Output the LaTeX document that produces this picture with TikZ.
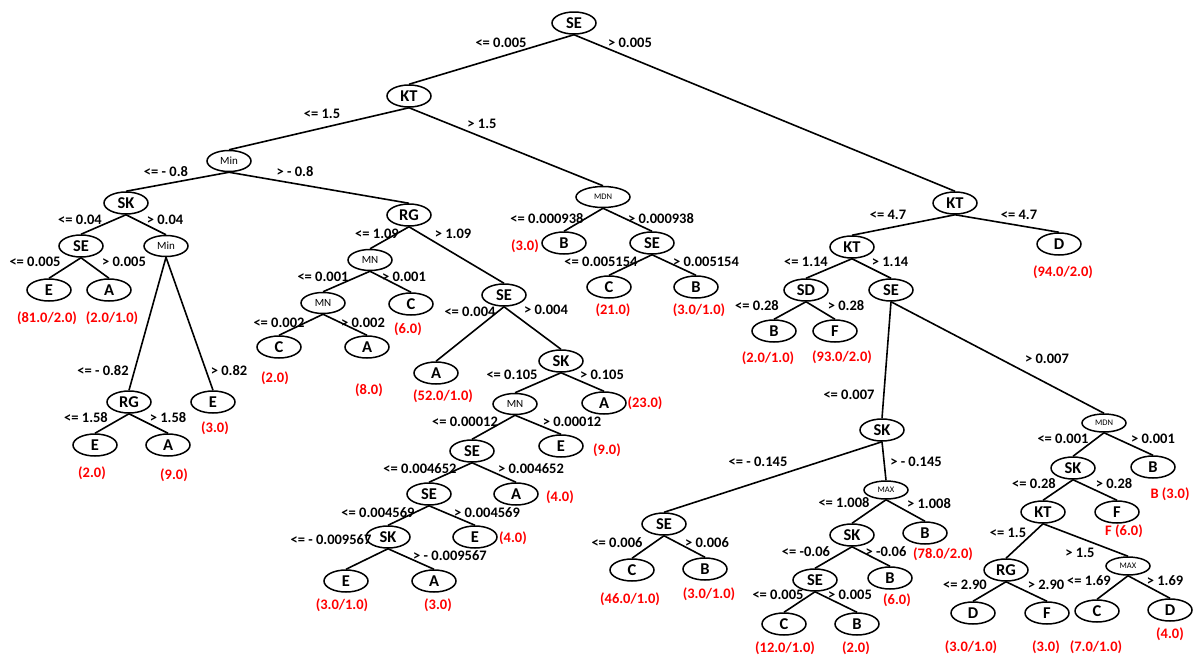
\documentclass[tikz,border=0pt]{standalone}
\usepackage{fontspec}
\setmainfont{Carlito}
\usetikzlibrary{shapes.geometric}
\begin{document}
\begin{tikzpicture}[x=1pt,y=-1pt,
  tn/.style={ellipse,draw,line width=1.5pt,minimum width=44pt,minimum height=22pt,inner sep=0pt,
    font=\fontsize{16.5}{16.5}\selectfont\bfseries},
  sn/.style={tn,minimum height=21pt,font=\fontsize{11}{11}\selectfont},
  xn/.style={tn,minimum height=18pt,font=\fontsize{8.5}{8.5}\selectfont},
  cond/.style={font=\fontsize{14.5}{14.5}\selectfont\bfseries,inner sep=0pt},
  cnt/.style={font=\fontsize{14.5}{14.5}\selectfont\bfseries,text=red,inner sep=0pt},
  br/.style={line width=1.6pt}]
\useasboundingbox (0,0) rectangle (1193,656);

% ---------- tree nodes ----------
\node[tn] (se0) at (574,23) {SE};
\node[tn] (kt1) at (409,96) {KT};
\node[sn] (min1) at (229,161) {Min};
\node[xn,minimum width=54pt,minimum height=21pt] (mdn1) at (603,197) {MDN};
\node[tn] (sk1) at (126,203) {SK};
\node[tn] (rg1) at (409,215) {RG};
\node[tn] (kt2) at (955,203) {KT};
\node[tn] (d1) at (1059,244) {D};
\node[tn] (se2) at (81,246) {SE};
\node[sn] (min2) at (166,246) {Min};
\node[tn] (e1) at (49,290) {E};
\node[tn] (a1) at (109,290) {A};
\node[tn] (rg2) at (129,402) {RG};
\node[tn] (e2) at (213,402) {E};
\node[tn] (e3) at (95,445) {E};
\node[tn] (a2) at (168,445) {A};
\node[sn] (mn1) at (370,260) {MN};
\node[tn] (se4) at (504,295) {SE};
\node[sn] (mn2) at (323,303) {MN};
\node[tn] (c2) at (411,304) {C};
\node[tn] (c3) at (279,347) {C};
\node[tn] (a3) at (367,347) {A};
\node[tn] (a4) at (436,373) {A};
\node[tn] (sk2) at (561,361) {SK};
\node[sn] (mn3) at (515,404) {MN};
\node[tn] (a5) at (604,403) {A};
\node[tn] (se5) at (472,451) {SE};
\node[tn] (e4) at (561,446) {E};
\node[tn] (se6) at (429,494) {SE};
\node[tn] (a6) at (516,494) {A};
\node[tn] (sk3) at (388,537) {SK};
\node[tn] (e5) at (475,537) {E};
\node[tn] (e6) at (346,581) {E};
\node[tn] (a7) at (434,581) {A};
\node[tn] (b1) at (564,243) {B};
\node[tn] (se3) at (652,243) {SE};
\node[tn] (c1) at (609,287) {C};
\node[tn] (b2) at (696,287) {B};
\node[tn] (kt3) at (852,247) {KT};
\node[tn] (sd) at (806,290) {SD};
\node[tn] (se7) at (891,290) {SE};
\node[tn] (b3) at (774,331) {B};
\node[tn] (f1) at (835,331) {F};
\node[tn] (sk4) at (882,430) {SK};
\node[xn] (mdn2) at (1104,423) {MDN};
\node[tn] (se8) at (664,524) {SE};
\node[xn] (max1) at (886,490) {MAX};
\node[tn] (c4) at (632,570) {C};
\node[tn] (b4) at (705,569) {B};
\node[tn] (sk5) at (852,535) {SK};
\node[tn] (b5) at (925,533) {B};
\node[tn] (se9) at (815,580) {SE};
\node[tn] (b6) at (890,578) {B};
\node[tn] (c5) at (784,624) {C};
\node[tn] (b7) at (857,624) {B};
\node[tn] (sk6) at (1073,468) {SK};
\node[tn] (b8) at (1153,467) {B};
\node[tn] (kt4) at (1043,512) {KT};
\node[tn] (f2) at (1117,512) {F};
\node[tn] (rg3) at (1006,570) {RG};
\node[xn] (max2) at (1128,566) {MAX};
\node[tn] (d2) at (973,613) {D};
\node[tn] (f3) at (1047,613) {F};
\node[tn] (c6) at (1097,611) {C};
\node[tn] (d3) at (1170,610) {D};

% ---------- branches ----------
\foreach \p/\c in {se0/kt1,se0/kt2,kt1/min1,kt1/mdn1,min1/sk1,min1/rg1,
  sk1/se2,sk1/min2,se2/e1,se2/a1,min2/rg2,min2/e2,rg2/e3,rg2/a2,
  rg1/mn1,rg1/se4,mn1/mn2,mn1/c2,mn2/c3,mn2/a3,se4/a4,se4/sk2,
  sk2/mn3,sk2/a5,mn3/se5,mn3/e4,se5/se6,se5/a6,se6/sk3,se6/e5,sk3/e6,sk3/a7,
  mdn1/b1,mdn1/se3,se3/c1,se3/b2,
  kt2/kt3,kt2/d1,kt3/sd,kt3/se7,sd/b3,sd/f1,se7/sk4,se7/mdn2,
  sk4/se8,sk4/max1,se8/c4,se8/b4,max1/sk5,max1/b5,sk5/se9,sk5/b6,se9/c5,se9/b7,
  mdn2/sk6,mdn2/b8,sk6/kt4,sk6/f2,kt4/rg3,kt4/max2,rg3/d2,rg3/f3,max2/c6,max2/d3}
  \draw[br] (\p.south) -- (\c.north);

% ---------- split conditions ----------
\node[cond] at (501,43) {<= 0.005};
\node[cond] at (630,43) {> 0.005};
\node[cond] at (322,114) {<= 1.5};
\node[cond] at (482,124) {> 1.5};
\node[cond] at (166,172) {<= - 0.8};
\node[cond] at (295,172) {> - 0.8};
\node[cond] at (80,220) {<= 0.04};
\node[cond] at (165,220) {> 0.04};
\node[cond] at (35,262) {<= 0.005};
\node[cond] at (124,262) {> 0.005};
\node[cond] at (103,371) {<= - 0.82};
\node[cond] at (229,371) {> 0.82};
\node[cond] at (86,418) {<= 1.58};
\node[cond] at (168,418) {> 1.58};
\node[cond] at (377,234) {<= 1.09};
\node[cond] at (453,234) {> 1.09};
\node[cond] at (323,277) {<= 0.001};
\node[cond] at (404,277) {> 0.001};
\node[cond] at (279,323) {<= 0.002};
\node[cond] at (363,323) {> 0.002};
\node[cond] at (470,312) {<= 0.004};
\node[cond] at (546,310) {> 0.004};
\node[cond] at (512,375) {<= 0.105};
\node[cond] at (602,375) {> 0.105};
\node[cond] at (465,422) {<= 0.00012};
\node[cond] at (572,422) {> 0.00012};
\node[cond] at (420,469) {<= 0.004652};
\node[cond] at (531,469) {> 0.004652};
\node[cond] at (378,513) {<= 0.004569};
\node[cond] at (487,513) {> 0.004569};
\node[cond] at (331,540) {<= - 0.009567};
\node[cond] at (450,556) {> - 0.009567};
\node[cond] at (547,219) {<= 0.000938};
\node[cond] at (661,219) {> 0.000938};
\node[cond] at (601,262) {<= 0.005154};
\node[cond] at (706,262) {> 0.005154};
\node[cond] at (888,215) {<= 4.7};
\node[cond] at (1019,215) {<= 4.7};
\node[cond] at (806,262) {<= 1.14};
\node[cond] at (890,262) {> 1.14};
\node[cond] at (757,306) {<= 0.28};
\node[cond] at (846,306) {> 0.28};
\node[cond] at (849,395) {<= 0.007};
\node[cond] at (1047,359) {> 0.007};
\node[cond] at (758,462) {<= - 0.145};
\node[cond] at (916,462) {> - 0.145};
\node[cond] at (617,543) {<= 0.006};
\node[cond] at (707,543) {> 0.006};
\node[cond] at (844,503) {<= 1.008};
\node[cond] at (929,504) {> 1.008};
\node[cond] at (806,552) {<= -0.06};
\node[cond] at (886,552) {> -0.06};
\node[cond] at (778,595) {<= 0.005};
\node[cond] at (850,595) {> 0.005};
\node[cond] at (1063,439) {<= 0.001};
\node[cond] at (1153,439) {> 0.001};
\node[cond] at (1034,484) {<= 0.28};
\node[cond] at (1114,484) {> 0.28};
\node[cond] at (1008,533) {<= 1.5};
\node[cond] at (1080,553) {> 1.5};
\node[cond] at (965,585) {<= 2.90};
\node[cond] at (1046,585) {> 2.90};
\node[cond] at (1089,581) {<= 1.69};
\node[cond] at (1165,581) {> 1.69};

% ---------- leaf counts ----------
\node[cnt] at (47,318) {(81.0/2.0)};
\node[cnt] at (112,318) {(2.0/1.0)};
\node[cnt] at (215,428) {(3.0)};
\node[cnt] at (92,473) {(2.0)};
\node[cnt] at (174,475) {(9.0)};
\node[cnt] at (408,329) {(6.0)};
\node[cnt] at (275,378) {(2.0)};
\node[cnt] at (369,390) {(8.0)};
\node[cnt] at (443,396) {(52.0/1.0)};
\node[cnt] at (645,403) {(23.0)};
\node[cnt] at (607,450) {(9.0)};
\node[cnt] at (560,497) {(4.0)};
\node[cnt] at (513,538) {(4.0)};
\node[cnt] at (342,605) {(3.0/1.0)};
\node[cnt] at (438,605) {(3.0)};
\node[cnt] at (525,246) {(3.0)};
\node[cnt] at (613,310) {(21.0)};
\node[cnt] at (699,310) {(3.0/1.0)};
\node[cnt] at (1063,272) {(94.0/2.0)};
\node[cnt] at (768,358) {(2.0/1.0)};
\node[cnt] at (842,357) {(93.0/2.0)};
\node[cnt] at (630,599) {(46.0/1.0)};
\node[cnt] at (709,594) {(3.0/1.0)};
\node[cnt] at (943,554) {(78.0/2.0)};
\node[cnt] at (897,600) {(6.0)};
\node[cnt] at (785,648) {(12.0/1.0)};
\node[cnt] at (856,648) {(2.0)};
\node[cnt] at (1170,494) {B (3.0)};
\node[cnt] at (1124,531) {F (6.0)};
\node[cnt] at (1170,634) {(4.0)};
\node[cnt] at (971,647) {(3.0/1.0)};
\node[cnt] at (1046,647) {(3.0)};
\node[cnt] at (1096,647) {(7.0/1.0)};
\end{tikzpicture}
\end{document}
